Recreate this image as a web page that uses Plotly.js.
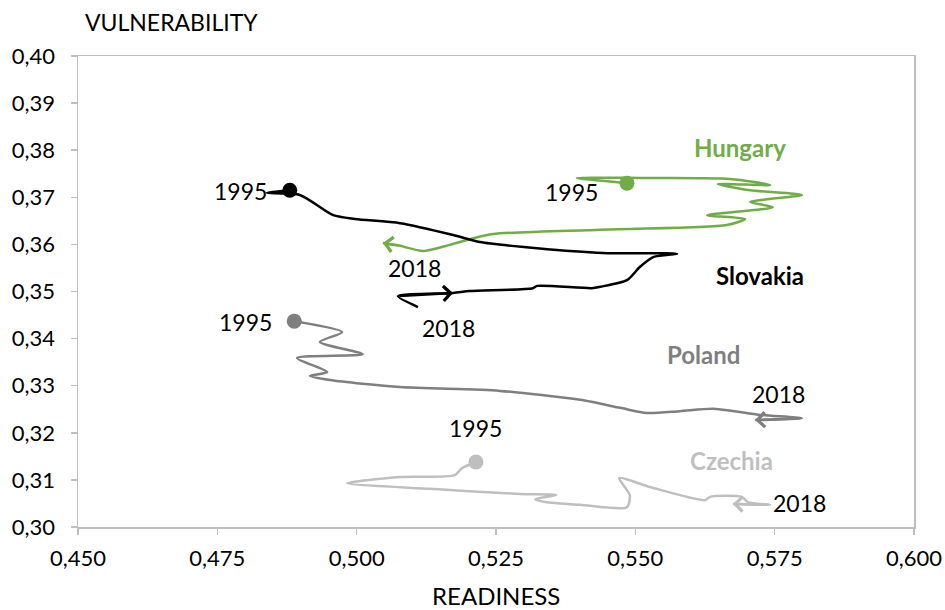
<!DOCTYPE html>
<html>
<head>
<meta charset="utf-8">
<script src="https://cdn.plot.ly/plotly-3.0.1.min.js"></script>
<style>html,body{margin:0;padding:0;background:#fff;}#chart{width:945px;height:610px;}</style>
</head>
<body>
<div id="chart"></div>
<script>
// Readiness (x) and vulnerability (y), 1995 -> 2018
const hungaryX = [0.5485, 0.5395, 0.5508, 0.5670, 0.5742, 0.5648, 0.5706, 0.5799, 0.5706, 0.5747, 0.5629, 0.5697, 0.5664, 0.5437, 0.5245, 0.5203, 0.5167, 0.5119, 0.5078, 0.5047];
const hungaryY = [0.3730, 0.3741, 0.3741, 0.3739, 0.3726, 0.3728, 0.3715, 0.3705, 0.3690, 0.3679, 0.3662, 0.3654, 0.3641, 0.3631, 0.3622, 0.3611, 0.3599, 0.3586, 0.3597, 0.3603];

const slovakiaX = [0.4880, 0.4839, 0.4898, 0.4958, 0.4997, 0.5078, 0.5173, 0.5221, 0.5324, 0.5442, 0.5575, 0.5532, 0.5508, 0.5485, 0.5437, 0.5422, 0.5324, 0.5316, 0.5203, 0.5173, 0.5074, 0.5110];
const slovakiaY = [0.3715, 0.3709, 0.3705, 0.3662, 0.3654, 0.3645, 0.3620, 0.3605, 0.3592, 0.3582, 0.3580, 0.3573, 0.3552, 0.3524, 0.3510, 0.3507, 0.3512, 0.3507, 0.3501, 0.3497, 0.3490, 0.3467];

const polandX = [0.4888, 0.4974, 0.4934, 0.5011, 0.4893, 0.4947, 0.4916, 0.4952, 0.5078, 0.5257, 0.5401, 0.5473, 0.5521, 0.5580, 0.5639, 0.5688, 0.5724, 0.5799, 0.5715];
const polandY = [0.3437, 0.3414, 0.3393, 0.3367, 0.3359, 0.3329, 0.3321, 0.3312, 0.3297, 0.3289, 0.3270, 0.3253, 0.3242, 0.3246, 0.3251, 0.3244, 0.3238, 0.3231, 0.3227];

const czechiaX = [0.5214, 0.5189, 0.5176, 0.5078, 0.4983, 0.5132, 0.5293, 0.5358, 0.5320, 0.5338, 0.5401, 0.5485, 0.5490, 0.5471, 0.5526, 0.5625, 0.5634, 0.5691, 0.5702, 0.5742, 0.5675];
const czechiaY = [0.3138, 0.3125, 0.3110, 0.3106, 0.3093, 0.3081, 0.3070, 0.3068, 0.3059, 0.3053, 0.3047, 0.3042, 0.3068, 0.3104, 0.3085, 0.3057, 0.3064, 0.3064, 0.3053, 0.3047, 0.3049];

const xTicks = [0.450, 0.475, 0.500, 0.525, 0.550, 0.575, 0.600];
const yTicks = [0.30, 0.31, 0.32, 0.33, 0.34, 0.35, 0.36, 0.37, 0.38, 0.39, 0.40];

const countryNames = ["Hungary", "Slovakia", "Poland", "Czechia"];
const startYear = "1995";
const endYear = "2018";

const FONT = "Lato, 'Open Sans', sans-serif";
const series = [
  {name: countryNames[0], x: hungaryX, y: hungaryY, color: "#70AD47", arrowIdx: hungaryX.length - 1, fromIdx: hungaryX.length - 2},
  {name: countryNames[1], x: slovakiaX, y: slovakiaY, color: "#000000", arrowIdx: 19, fromIdx: 20},
  {name: countryNames[2], x: polandX, y: polandY, color: "#7F7F7F", arrowIdx: polandX.length - 1, fromIdx: polandX.length - 2},
  {name: countryNames[3], x: czechiaX, y: czechiaY, color: "#BFBFBF", arrowIdx: czechiaX.length - 1, fromIdx: czechiaX.length - 2}
];

const traces = [];
const annotations = [];
series.forEach(s => {
  traces.push({x: s.x, y: s.y, type: "scatter", mode: "lines", line: {color: s.color, width: 2.5, shape: "spline", smoothing: 0.7}, showlegend: false, hoverinfo: "skip"});
  traces.push({x: [s.x[0]], y: [s.y[0]], type: "scatter", mode: "markers", marker: {color: s.color, size: 15}, showlegend: false, hoverinfo: "skip"});
  annotations.push({x: s.x[s.arrowIdx], y: s.y[s.arrowIdx], ax: s.x[s.fromIdx], ay: s.y[s.fromIdx], xref: "x", yref: "y", axref: "x", ayref: "y", text: "", showarrow: true, arrowhead: 4, arrowsize: 1.15, arrowwidth: 2.5, arrowcolor: s.color, standoff: 0, startstandoff: 0});
});

const labelFont = (c) => ({family: FONT, size: 23, color: c});
const nameFont = (c) => ({family: FONT, size: 24, color: c, weight: "bold"});
function txt(x, y, t, f) { annotations.push({x: x, y: y, xref: "x", yref: "y", text: t, showarrow: false, font: f, xanchor: "center", yanchor: "middle"}); }

txt(0.5688, 0.3805, "<b>" + countryNames[0] + "</b>", nameFont("#70AD47"));
txt(0.5724, 0.3535, "<b>" + countryNames[1] + "</b>", nameFont("#000000"));
txt(0.5623, 0.3367, "<b>" + countryNames[2] + "</b>", nameFont("#7F7F7F"));
txt(0.5673, 0.3142, "<b>" + countryNames[3] + "</b>", nameFont("#BFBFBF"));

txt(0.5386, 0.3711, startYear, labelFont("#000"));
txt(0.5103, 0.3550, endYear, labelFont("#000"));
txt(0.4791, 0.3713, startYear, labelFont("#000"));
txt(0.5164, 0.3423, endYear, labelFont("#000"));
txt(0.4800, 0.3435, startYear, labelFont("#000"));
txt(0.5756, 0.3282, endYear, labelFont("#000"));
txt(0.5214, 0.3210, startYear, labelFont("#000"));
txt(0.5795, 0.3051, endYear, labelFont("#000"));

annotations.push({xref: "paper", yref: "paper", x: 0.006, y: 1.072, xanchor: "left", yanchor: "middle", text: "VULNERABILITY", showarrow: false, font: {family: FONT, size: 23, color: "#000"}});
annotations.push({xref: "paper", yref: "paper", x: 0.5, y: -0.146, xanchor: "center", yanchor: "middle", text: "READINESS", showarrow: false, font: {family: FONT, size: 24, color: "#000"}});

const axisCommon = {showgrid: false, zeroline: false, showline: true, mirror: true, linecolor: "#BFBFBF", linewidth: 1.5, ticks: "outside", ticklen: 6, tickcolor: "#BFBFBF", tickwidth: 1.5, tickfont: {family: FONT, size: 22, color: "#000"}, fixedrange: true};

const layout = {
  width: 945, height: 610,
  margin: {l: 78, r: 31, t: 56, b: 83},
  paper_bgcolor: "#fff", plot_bgcolor: "#fff",
  separators: ", ",
  showlegend: false,
  xaxis: Object.assign({}, axisCommon, {range: [0.45, 0.60], tickvals: xTicks, tickformat: ".3f", ticklabelstandoff: 5}),
  yaxis: Object.assign({}, axisCommon, {range: [0.30, 0.40], tickvals: yTicks, tickformat: ".2f", ticklabelstandoff: 11}),
  annotations: annotations
};

Plotly.newPlot("chart", traces, layout, {staticPlot: true, displayModeBar: false});
</script>
</body>
</html>
